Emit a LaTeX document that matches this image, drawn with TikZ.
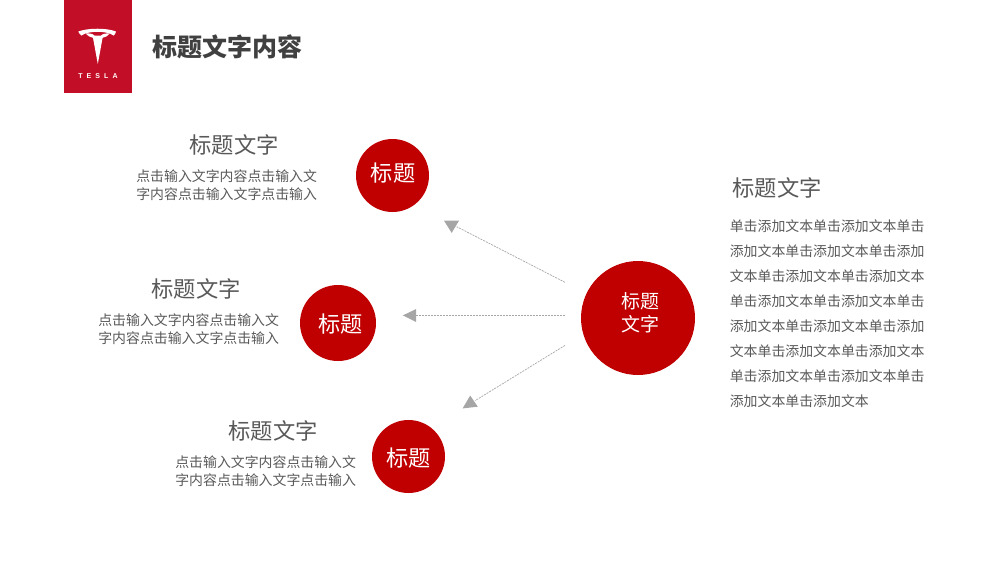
\documentclass[tikz,border=0pt]{standalone}
\usepackage{fontspec}
\setmainfont{Noto Sans CJK SC}
\newfontfamily\logofont[LetterSpace=58]{Liberation Sans}
\definecolor{brandred}{HTML}{C00000}
\definecolor{logored}{HTML}{C20E26}
\definecolor{titlegrey}{HTML}{404040}
\definecolor{bodygrey}{HTML}{595959}
\definecolor{arrowgrey}{HTML}{A6A6A6}
\tikzset{
  ball/.style={circle,fill=brandred,inner sep=0pt},
  balltext/.style={inner sep=0pt,text=white,align=center},
  headtext/.style={inner sep=0pt,text=bodygrey,font=\fontsize{22.3}{26}\selectfont},
  bodyleft/.style={inner sep=0pt,text=bodygrey,anchor=east,align=right,font=\fontsize{13.9}{17.6}\selectfont},
  bodyright/.style={inner sep=0pt,text=bodygrey,anchor=north west,align=left,font=\fontsize{13.9}{25}\selectfont},
  link/.style={draw=arrowgrey,line width=0.7pt,dash pattern=on 2pt off 1pt},
  tip/.style={fill=arrowgrey,draw=none}
}
\begin{document}
\begin{tikzpicture}[x=1pt,y=-1pt]
\useasboundingbox (0,0) rectangle (1000,563);
% logo
\fill[logored] (64,0) rectangle (132,93);
\fill[white] (78.3,31.5) .. controls (88,27.8) and (107,27.8) .. (116,31.5)
  .. controls (115.5,33.5) and (115,34.5) .. (113.5,35.5)
  .. controls (111.5,33.6) and (108,32.7) .. (105,32.4)
  .. controls (100,31.6) and (95,31.6) .. (90,32.4)
  .. controls (87,32.7) and (84,33.6) .. (81.5,35.5)
  .. controls (80,34.5) and (79,33.5) .. (78.3,31.5) -- cycle;
\fill[white] (85.5,33.4) .. controls (89,33.2) and (93,33.6) .. (94.5,35.6)
  -- (101,35.6) .. controls (102.5,33.6) and (106.5,33.2) .. (110,33.4)
  .. controls (108,36) and (105,37.4) .. (102.6,37.8) -- (97.8,64) -- (93,37.8)
  .. controls (90.5,37.4) and (87.5,36) .. (85.5,33.4) -- cycle;
\node[inner sep=0pt,anchor=west,text=white,font=\logofont\bfseries\fontsize{7}{8}\selectfont] (brand) at (78.2,76.3) {TESLA};
% title
\node[inner sep=0pt,anchor=west,text=titlegrey,font=\fontsize{25}{30}\selectfont\bfseries] (title) at (152.6,47) {标题文字内容};
% circles
\node[ball,minimum size=73pt] (top) at (392.5,175.5) {};
\node[ball,minimum size=76pt] (mid) at (338,323) {};
\node[ball,minimum size=73pt] (bot) at (408.5,456.5) {};
\node[ball,minimum size=114pt] (hub) at (638,318) {};
\node[balltext,font=\fontsize{22.2}{26}\selectfont] (toplabel) at (393,173.5) {标题};
\node[balltext,font=\fontsize{22.2}{26}\selectfont] (midlabel) at (340.3,324) {标题};
\node[balltext,font=\fontsize{22.2}{26}\selectfont] (botlabel) at (408.5,458.5) {标题};
\node[balltext,font=\fontsize{19}{23}\selectfont] (hublabel) at (640,313) {标题\\文字};
% left texts
\node[headtext] (h1) at (234.1,145) {标题文字};
\node[bodyleft] (b1) at (317.2,185) {点击输入文字内容点击输入文\\字内容点击输入文字点击输入};
\node[headtext] (h2) at (196.1,289) {标题文字};
\node[bodyleft] (b2) at (279.2,329) {点击输入文字内容点击输入文\\字内容点击输入文字点击输入};
\node[headtext] (h3) at (273.1,431) {标题文字};
\node[bodyleft] (b3) at (356.2,471) {点击输入文字内容点击输入文\\字内容点击输入文字点击输入};
% right text
\node[headtext] (h4) at (777.1,188) {标题文字};
\node[bodyright] (b4) at (729.6,219.5) {单击添加文本单击添加文本单击\\添加文本单击添加文本单击添加\\文本单击添加文本单击添加文本\\单击添加文本单击添加文本单击\\添加文本单击添加文本单击添加\\文本单击添加文本单击添加文本\\单击添加文本单击添加文本单击\\添加文本单击添加文本};
% connectors
\coordinate (s1) at (565,282.3);
\coordinate (e1) at (456.7,226.7);
\coordinate (s2) at (565,315.5);
\coordinate (e2) at (415,315.5);
\coordinate (s3) at (565,345.4);
\coordinate (e3) at (475,400.7);
\draw[link] (s1) -- (e1);
\draw[link] (s2) -- (e2);
\draw[link] (s3) -- (e3);
\fill[tip] (444,220.7) -- (459,220.7) -- (451.7,232.9) -- cycle;
\fill[tip] (402.8,315.4) -- (416.2,309) -- (416.2,322) -- cycle;
\fill[tip] (470.2,395.6) -- (477.8,406.7) -- (462.6,408.4) -- cycle;
\end{tikzpicture}
\end{document}
